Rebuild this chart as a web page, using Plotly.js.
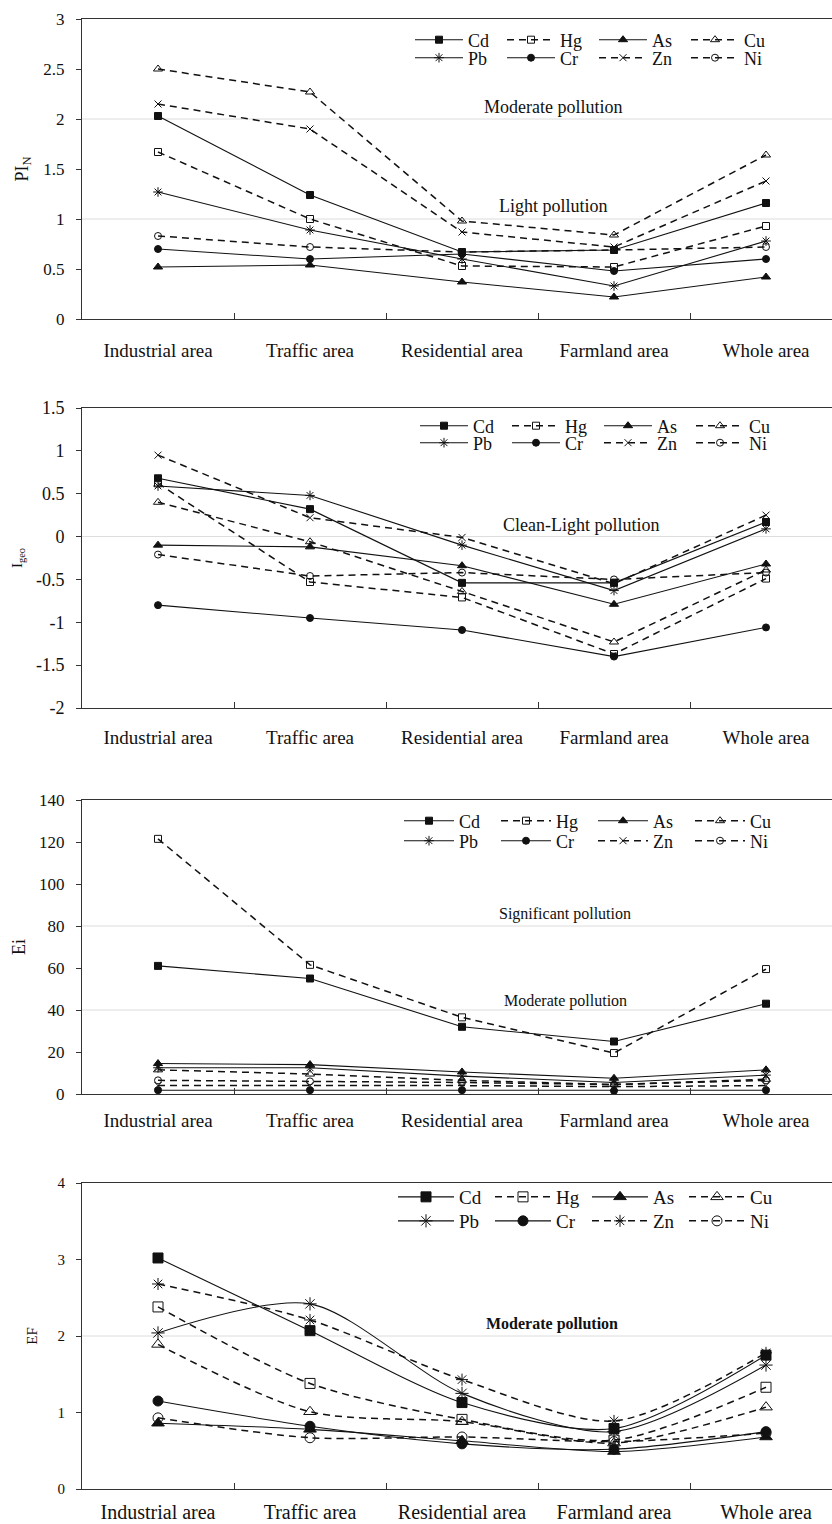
<!DOCTYPE html>
<html>
<head>
<meta charset="utf-8">
<script src="https://cdn.plot.ly/plotly-3.0.1.min.js"></script>
<style>html,body{margin:0;padding:0;background:#fff;}#chart{width:832px;height:1524px;}</style>
</head>
<body>
<div id="chart"></div>
<script>
// ---------------- DATA ----------------
var categories = ['Industrial area', 'Traffic area', 'Residential area', 'Farmland area', 'Whole area'];
var elements = ['Cd', 'Hg', 'As', 'Cu', 'Pb', 'Cr', 'Zn', 'Ni'];

// Panel 1: PI_N
var piCd = [2.03, 1.24, 0.67, 0.69, 1.16];
var piHg = [1.67, 1.00, 0.53, 0.52, 0.93];
var piAs = [0.52, 0.54, 0.37, 0.22, 0.42];
var piCu = [2.50, 2.27, 0.98, 0.84, 1.64];
var piPb = [1.27, 0.89, 0.60, 0.33, 0.78];
var piCr = [0.70, 0.60, 0.65, 0.48, 0.60];
var piZn = [2.15, 1.90, 0.87, 0.72, 1.38];
var piNi = [0.83, 0.72, 0.67, 0.69, 0.72];

// Panel 2: Igeo
var igCd = [0.68, 0.32, -0.54, -0.54, 0.17];
var igHg = [0.62, -0.53, -0.71, -1.37, -0.49];
var igAs = [-0.10, -0.12, -0.34, -0.79, -0.32];
var igCu = [0.40, -0.06, -0.64, -1.23, -0.39];
var igPb = [0.59, 0.48, -0.10, -0.63, 0.09];
var igCr = [-0.80, -0.95, -1.09, -1.40, -1.06];
var igZn = [0.95, 0.22, -0.01, -0.55, 0.25];
var igNi = [-0.21, -0.46, -0.42, -0.50, -0.42];

// Panel 3: Ei
var eiCd = [61, 55, 32, 25, 43];
var eiHg = [121.5, 61.5, 36.5, 19.5, 59.5];
var eiAs = [14.5, 14, 10.5, 7.5, 11.5];
var eiCu = [11.5, 9.5, 6.5, 4.5, 7];
var eiPb = [12.5, 12.5, 8.5, 5.5, 9];
var eiCr = [1.8, 1.8, 1.8, 1.5, 1.8];
var eiZn = [4, 4, 4, 3.5, 4];
var eiNi = [6.5, 6, 5.5, 4.5, 6.5];

// Panel 4: EF
var efCd = [3.02, 2.07, 1.13, 0.79, 1.75];
var efHg = [2.38, 1.38, 0.91, 0.64, 1.33];
var efAs = [0.86, 0.78, 0.63, 0.49, 0.68];
var efCu = [1.89, 1.01, 0.88, 0.60, 1.07];
var efPb = [2.04, 2.42, 1.25, 0.75, 1.62];
var efCr = [1.15, 0.82, 0.59, 0.52, 0.75];
var efZn = [2.68, 2.21, 1.43, 0.89, 1.78];
var efNi = [0.93, 0.67, 0.68, 0.62, 0.73];

// tick labels
var y1Ticks = [0, 0.5, 1, 1.5, 2, 2.5, 3];
var y1Text = ['0', '0.5', '1', '1.5', '2', '2.5', '3'];
var y2Ticks = [-2, -1.5, -1, -0.5, 0, 0.5, 1, 1.5];
var y2Text = ['-2', '-1.5', '-1', '-0.5', '0', '0.5', '1', '1.5'];
var y3Ticks = [0, 20, 40, 60, 80, 100, 120, 140];
var y3Text = ['0', '20', '40', '60', '80', '100', '120', '140'];
var y4Ticks = [0, 1, 2, 3, 4];
var y4Text = ['0', '1', '2', '3', '4'];

// pollution class thresholds and labels
var thresholds1 = [1, 2];
var thresholds2 = [0];
var thresholds3 = [40, 80];
var thresholds4 = [2];
var classLabels1 = ['Moderate pollution', 'Light pollution'];
var classLabels2 = ['Clean-Light pollution'];
var classLabels3 = ['Significant pollution', 'Moderate pollution'];
var classLabels4 = ['Moderate pollution'];

var yTitles = ['PI<sub>N</sub>', 'I<sub>geo</sub>', 'Ei', 'EF'];

// ---------------- STYLE ----------------
var FONT = 'Liberation Serif, Times New Roman, serif';
var panels = [
  [piCd, piHg, piAs, piCu, piPb, piCr, piZn, piNi],
  [igCd, igHg, igAs, igCu, igPb, igCr, igZn, igNi],
  [eiCd, eiHg, eiAs, eiCu, eiPb, eiCr, eiZn, eiNi],
  [efCd, efHg, efAs, efCu, efPb, efCr, efZn, efNi]
];
var symbolsA = ['square', 'square-open', 'triangle-up', 'triangle-up-open', 'asterisk-open', 'circle', 'x-thin-open', 'circle-open'];
var symbolsB = ['square', 'square-open', 'triangle-up', 'triangle-up-open', 'asterisk-open', 'circle', 'asterisk-open', 'circle-open'];
var sizes = [7, 7, 8, 8, 8, 7, 7, 7];
var dashed = [false, true, false, true, false, false, true, true];

var traces = [];
for (var p = 0; p < 4; p++) {
  for (var k = 0; k < 8; k++) {
    var row = k < 4 ? 0 : 1;
    var li = 2 * p + row + 1;
    var sym = (p === 3 ? symbolsB : symbolsA)[k];
    traces.push({
      type: 'scatter',
      mode: 'lines+markers',
      x: categories,
      y: panels[p][k],
      name: elements[k],
      xaxis: p === 0 ? 'x' : 'x' + (p + 1),
      yaxis: p === 0 ? 'y' : 'y' + (p + 1),
      legend: li === 1 ? 'legend' : 'legend' + li,
      line: {color: '#111', width: dashed[k] ? 1.5 : 1.1, dash: dashed[k] ? '7px,5px' : 'solid', shape: p === 3 ? 'spline' : 'linear', smoothing: 0.8},
      marker: {symbol: sym, size: p === 3 ? sizes[k] + 3 : sizes[k], color: '#111', line: {color: '#111', width: 1}},
      hoverinfo: 'skip'
    });
  }
}

// plot geometry (pixels) for placement
var W = 832, H = 1524, ML = 82, MR = 0, MT = 19, MB = 35;
var PH = H - MT - MB, PW = W - ML - MR;
function py(pix) { return (H - MB - pix) / PH; }
function px(pix) { return (pix - ML) / PW; }
var panelPix = [[19, 319], [408, 708], [800, 1094], [1183, 1489]];
var legendLeft = [415, 420, 404, 398];
var legendRows = [[40, 58], [426, 443], [821, 841], [1197, 1221]];
var legendFont = [18, 18, 18, 19];
var itemW = [48, 48, 50, 56];
var entryW = [29, 29, 32, 26];

var layout = {
  width: W, height: H,
  margin: {l: ML, r: MR, t: MT, b: MB, pad: 0},
  paper_bgcolor: '#fff', plot_bgcolor: 'rgba(0,0,0,0)',
  font: {family: FONT, color: '#111', size: 17},
  showlegend: true,
  shapes: [], annotations: []
};

var yTicks = [[y1Ticks, y1Text], [y2Ticks, y2Text], [y3Ticks, y3Text], [y4Ticks, y4Text]];
var yRanges = [[0, 3], [-2, 1.5], [0, 140], [0, 4]];
var tickFont = [17, 18, 17, 15];
var xFont = [19, 19, 19, 20];
var xStand = [14, 12, 9, 5];
var yTitleFont = [18, 15, 18, 15];
var yStand = [10, 9, 8, 16];

for (var p = 0; p < 4; p++) {
  var s = p === 0 ? '' : String(p + 1);
  var dom = [py(panelPix[p][1]), py(panelPix[p][0])];
  layout['xaxis' + s] = {
    type: 'category', categoryorder: 'array', categoryarray: categories,
    range: [-0.5, -0.5 + PW / 152], domain: [0, 1], anchor: 'y' + s,
    showline: true, linecolor: '#333', linewidth: 1, mirror: true,
    ticks: 'inside', ticklen: 6, tickcolor: '#333', tickson: 'boundaries',
    showgrid: false, zeroline: false, fixedrange: true,
    tickfont: {family: FONT, size: xFont[p], color: '#111'},
    ticklabelstandoff: xStand[p]
  };
  layout['yaxis' + s] = {
    domain: dom, anchor: 'x' + s, range: yRanges[p],
    tickmode: 'array', tickvals: yTicks[p][0], ticktext: yTicks[p][1],
    showline: true, linecolor: '#333', linewidth: 1, mirror: false,
    ticks: 'outside', ticklen: 5, tickcolor: '#333',
    showgrid: false, zeroline: false, fixedrange: true,
    tickfont: {family: FONT, size: tickFont[p], color: '#111'},
    ticklabelstandoff: 8,
    title: {text: yTitles[p], font: {family: FONT, size: yTitleFont[p], color: '#111'}, standoff: yStand[p]}
  };
  for (var r = 0; r < 2; r++) {
    var li = 2 * p + r + 1;
    layout[li === 1 ? 'legend' : 'legend' + li] = {
      orientation: 'h', xref: 'paper', yref: 'paper',
      x: px(legendLeft[p] - 5), y: py(legendRows[p][r]), xanchor: 'left', yanchor: 'middle',
      bgcolor: 'rgba(0,0,0,0)', borderwidth: 0,
      font: {family: FONT, size: legendFont[p], color: '#111'},
      entrywidth: entryW[p], entrywidthmode: 'pixels', itemwidth: itemW[p],
      tracegroupgap: 0, itemclick: false, itemdoubleclick: false
    };
  }
}

var thr = [thresholds1, thresholds2, thresholds3, thresholds4];
for (var p = 0; p < 4; p++) {
  var s = p === 0 ? '' : String(p + 1);
  thr[p].forEach(function (v) {
    layout.shapes.push({type: 'line', xref: 'x' + s + ' domain', yref: 'y' + s, x0: 0, x1: 1, y0: v, y1: v,
      line: {color: '#dcdcdc', width: 1}, layer: 'below'});
  });
}

// class labels (positions in data coordinates)
var labelPos = [
  [[2.6, 2.12, 18, false], [2.6, 1.13, 18, false]],
  [[2.78, 0.13, 18, false]],
  [[2.68, 85.7, 16, false], [2.68, 44.3, 16, false]],
  [[2.59, 2.16, 16, true]]
];
var labels = [classLabels1, classLabels2, classLabels3, classLabels4];
for (var p = 0; p < 4; p++) {
  var s = p === 0 ? '' : String(p + 1);
  labels[p].forEach(function (t, i) {
    var lp = labelPos[p][i];
    layout.annotations.push({xref: 'x' + s, yref: 'y' + s, x: lp[0], y: lp[1], text: lp[3] ? '<b>' + t + '</b>' : t,
      showarrow: false, font: {family: FONT, size: lp[2], color: '#111'}});
  });
}

Plotly.newPlot('chart', traces, layout, {displayModeBar: false, staticPlot: true});
</script>
</body>
</html>
